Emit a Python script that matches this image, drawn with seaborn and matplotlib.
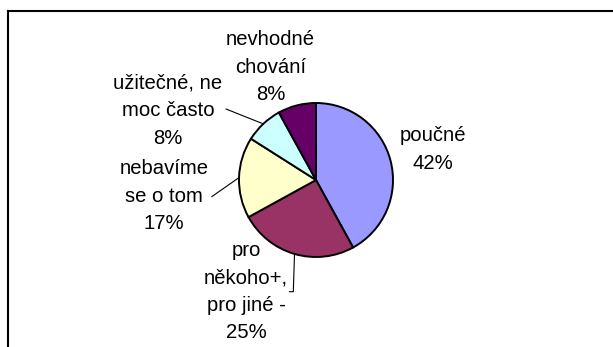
import numpy as np
import matplotlib
matplotlib.use("Agg")
import matplotlib.pyplot as plt
import seaborn as sns

# Survey answers, clockwise from 12 o'clock
categories = ["poučné", "pro\nněkoho+,\npro jiné -", "nebavíme\nse o tom",
              "užitečné, ne\nmoc často", "nevhodné\nchování"]
shares = [42, 25, 17, 8, 8]
colors = ["#9999FF", "#993366", "#FFFFCC", "#CCFFFF", "#660066"]

W, H = 613, 347
sns.set_theme(style="white")
plt.rcParams["font.family"] = ["Liberation Sans", "DejaVu Sans"]

fig = plt.figure(figsize=(W / 100, H / 100), dpi=100)
ax = fig.add_axes([0, 0, 1, 1])


def py(y):
    """Convert a top-down pixel row into the axes' bottom-up y."""
    return H - y


cx, cy, r = 316, py(180), 77
ax.pie(shares, colors=colors, startangle=90, counterclock=False,
       center=(cx, cy), radius=r, frame=False,
       wedgeprops=dict(edgecolor="black", linewidth=1.4))
ax.set_xlim(0, W)
ax.set_ylim(0, H)
ax.set_aspect("equal")
ax.axis("off")

# Chart-area frame (left and top edges)
ax.plot([7.7, 7.7], [py(11), -5], color="black", lw=1.5, clip_on=False,
        solid_capstyle="projecting")
ax.plot([7.7, W + 5], [py(11), py(11)], color="black", lw=1.5, clip_on=False,
        solid_capstyle="projecting")

# Mid-angle of each slice, measured like the pie (clockwise from the top)
total = sum(shares)
cum = np.cumsum([0] + shares)
mid_deg = 90 - (cum[:-1] + cum[1:]) / 2 / total * 360
edge_pts = [(cx + r * np.cos(np.radians(a)), cy + r * np.sin(np.radians(a)))
            for a in mid_deg]

# Label anchor: centre x and first baseline (pixel rows from the top)
anchors = [(433, 141), (246, 256), (164, 174), (168, 88.5), (270.5, 45)]
pitch = 27.5
for name, val, (lx, ly) in zip(categories, shares, anchors):
    lines = name.split("\n") + [f"{val}%"]
    for i, line in enumerate(lines):
        ax.text(lx, py(ly + i * pitch), line, ha="center", va="baseline",
                fontsize=14.6, color="black")

# Leader lines from labels to their slices
leaders = {
    1: [(289.3, 291.7), (293.3, 291.7)],
    2: [(211.7, 196.7)],
    3: [(226, 109)],
}
for idx, pts in leaders.items():
    xs = [p[0] for p in pts] + [edge_pts[idx][0]]
    ys = [py(p[1]) for p in pts] + [edge_pts[idx][1]]
    ax.plot(xs, ys, color="black", lw=0.8)

fig.savefig("out.png", dpi=100, facecolor="white")
